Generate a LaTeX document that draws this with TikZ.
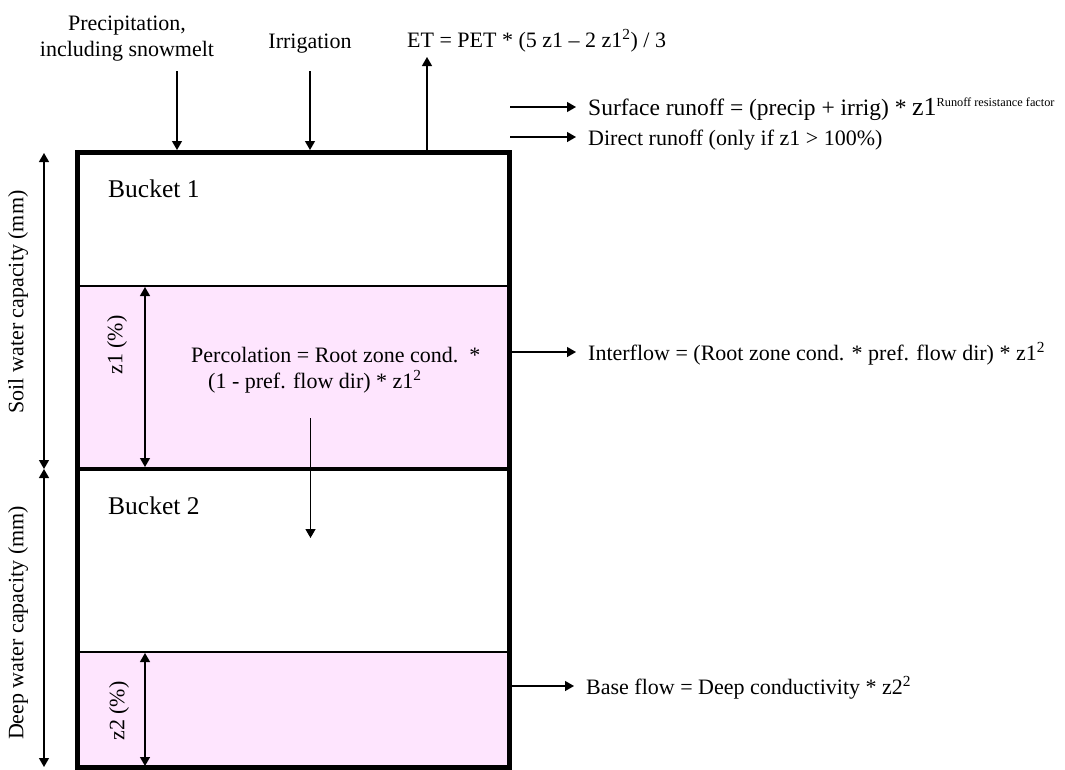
\documentclass[tikz,border=0pt]{standalone}
\usepackage{fontspec}
\setmainfont{Liberation Serif}
\usetikzlibrary{arrows.meta}
\definecolor{pinkfill}{RGB}{254,229,254}
\begin{document}
\begin{tikzpicture}[x=1pt,y=-1pt,
  txt/.style={inner sep=0pt,anchor=base west,font=\fontsize{22}{26}\selectfont},
  ctxt/.style={inner sep=0pt,anchor=base,font=\fontsize{22}{26}\selectfont},
  bucketlbl/.style={inner sep=0pt,anchor=base west,font=\fontsize{25.5}{30}\selectfont},
  rottxt/.style={inner sep=0pt,rotate=90,font=\fontsize{22}{26}\selectfont},
  arr/.style={line width=1.3pt,-{Triangle[length=9pt,width=10pt]}},
  darr/.style={line width=1.3pt,{Triangle[length=9pt,width=10pt]}-{Triangle[length=9pt,width=10pt]}},
  thickline/.style={line width=5pt},
  midline/.style={line width=4pt},
  thinline/.style={line width=1.5pt}]
\useasboundingbox (0,0) rectangle (1065,769);
% box corners
\coordinate (tl) at (77.5,152.5);
\coordinate (tr) at (509.5,152.5);
\coordinate (bl) at (77.5,767);
\coordinate (br) at (509.5,767);
% pink areas
\fill[pinkfill] (80,286) rectangle (507,467);
\fill[pinkfill] (80,652) rectangle (507,765);
\draw[thinline] (80,286) -- (507,286);
\draw[thinline] (80,652) -- (507,652);
% divider
\draw[midline] (77.5,469) -- (509.5,469);
% outer box
\draw[thickline,line join=miter] (tl) -- (tr) -- (br) -- (bl) -- cycle;

% top labels
\node[ctxt] (prec1) at (127,30) {Precipitation,};
\node[ctxt] (prec2) at (127,56) {including snowmelt};
\node[ctxt] (irr) at (310,48) {Irrigation};
\node[txt] (et) at (407,47) {ET = PET * (5 z1 – 2 z1\textsuperscript{2}) / 3};
\coordinate (precA) at (177,71);
\coordinate (precB) at (177,150);
\coordinate (irrA) at (310,71);
\coordinate (irrB) at (310,150);
\coordinate (etA) at (427,150);
\coordinate (etB) at (427,57);
\draw[arr] (precA) -- (precB);
\draw[arr] (irrA) -- (irrB);
\draw[arr] (etA) -- (etB);

% runoff
\coordinate (srA) at (510,107);
\coordinate (srB) at (576,107);
\node[txt] (sr) at (588,115) {{\fontsize{23.5}{26}\selectfont Surface runoff = (precip + irrig) *} {\fontsize{26}{28}\selectfont z1}\raisebox{9pt}{\fontsize{12.3}{13}\selectfont Runoff resistance factor}};
\coordinate (drA) at (510,137);
\coordinate (drB) at (576,137);
\node[txt] (dr) at (588,145) {Direct runoff (only if z1 > 100\%)};
\draw[arr] (srA) -- (srB);
\draw[arr] (drA) -- (drB);

% buckets
\node[bucketlbl] (b1) at (108,197) {Bucket 1};
\node[bucketlbl] (b2) at (108,514) {Bucket 2};

% percolation
\node[txt] (perc1) at (191,362) {Percolation = Root zone cond.\ \ *};
\node[txt] (perc2) at (208,388) {(1 - pref. flow dir) * z1\textsuperscript{2}};
\coordinate (pcA) at (310.5,418);
\coordinate (pcB) at (310.5,538);
\draw[arr] (pcA) -- (pcB);

% interflow
\coordinate (ifA) at (512,352);
\coordinate (ifB) at (576,352);
\draw[arr] (ifA) -- (ifB);
\node[txt] (ifl) at (588,360) {Interflow = (Root zone cond. * pref. flow dir) * z1\textsuperscript{2}};

% base flow
\coordinate (bfA) at (512,686);
\coordinate (bfB) at (574,686);
\draw[arr] (bfA) -- (bfB);
\node[txt] (bfl) at (586,694) {Base flow = Deep conductivity * z2\textsuperscript{2}};

% z arrows
\coordinate (z1A) at (145,287);
\coordinate (z1B) at (145,467);
\draw[darr] (z1A) -- (z1B);
\node[rottxt] (z1l) at (117,345) {z1 (\%)};
\coordinate (z2A) at (145,653);
\coordinate (z2B) at (145,766);
\draw[darr] (z2A) -- (z2B);
\node[rottxt] (z2l) at (119,711) {z2 (\%)};

% capacity arrows
\coordinate (scA) at (44,153);
\coordinate (scB) at (44,469);
\draw[darr] (scA) -- (scB);
\node[rottxt] (scl) at (18,302) {Soil water capacity (mm)};
\coordinate (dcA) at (44,469);
\coordinate (dcB) at (44,767);
\draw[darr] (dcA) -- (dcB);
\node[rottxt] (dcl) at (18,623) {Deep water capacity (mm)};
\end{tikzpicture}
\end{document}
